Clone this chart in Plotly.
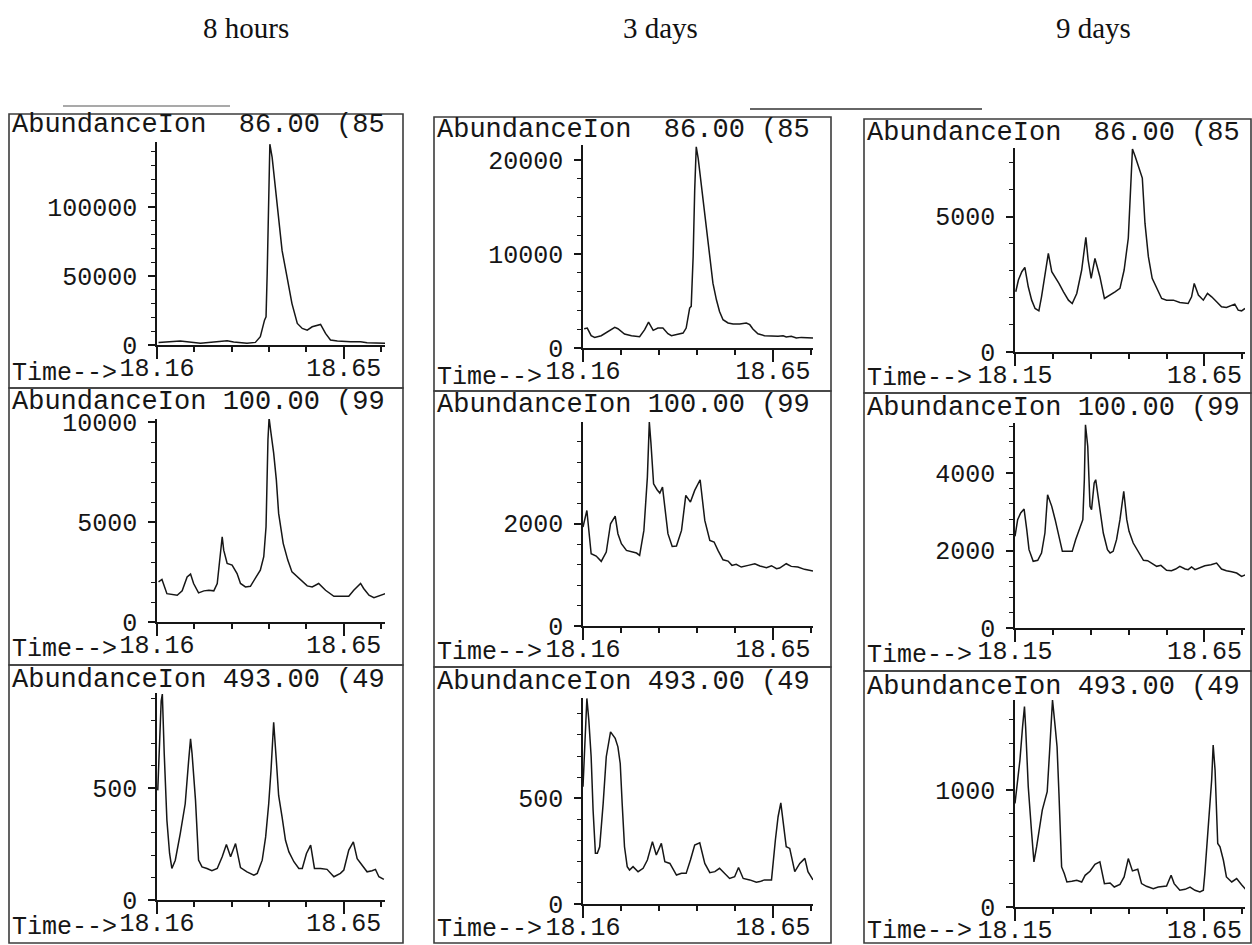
import plotly.graph_objects as go

W, H = 1252, 945

# ---------------- text ----------------
col_titles = ["8 hours", "3 days", "9 days"]
ion_labels = ["Ion  86.00 (85", "Ion 100.00 (99", "Ion 493.00 (49"]
x_start_labels = ["18.16", "18.16", "18.15"]
x_end_label = "18.65"

# ---------------- data (time in min, abundance) ----------------
# 8 hours, ion 86
t_8h_86 = [18.164, 18.221, 18.274, 18.326, 18.344, 18.361, 18.396, 18.418, 18.431, 18.442, 18.446,
           18.449, 18.453, 18.456, 18.462, 18.475, 18.488, 18.501, 18.514, 18.528, 18.541, 18.554,
           18.567, 18.589, 18.602, 18.615, 18.633, 18.668, 18.694, 18.711, 18.759]
v_8h_86 = [1900, 2900, 1200, 2400, 3100, 2200, 1200, 1900, 6000, 18000, 20400,
           51700, 123800, 145400, 135800, 99800, 68500, 49300, 30000, 15600, 12000, 10800,
           13200, 14900, 8400, 3600, 2900, 2400, 2400, 1700, 1200]

# 8 hours, ion 100
t_8h_100 = [18.164, 18.173, 18.186, 18.204, 18.213, 18.226, 18.239, 18.248, 18.256, 18.269, 18.283,
            18.296, 18.309, 18.318, 18.326, 18.331, 18.335, 18.344, 18.357, 18.370, 18.379, 18.392,
            18.405, 18.418, 18.431, 18.440, 18.446, 18.451, 18.454, 18.459, 18.466, 18.473, 18.479,
            18.491, 18.503, 18.514, 18.528, 18.541, 18.554, 18.567, 18.584, 18.602, 18.624, 18.641,
            18.663, 18.676, 18.694, 18.702, 18.716, 18.729, 18.746, 18.759]
v_8h_100 = [2010, 2130, 1420, 1370, 1340, 1560, 2260, 2400, 1930, 1460, 1560,
            1590, 1560, 1930, 3270, 4270, 3600, 2930, 2850, 2430, 1930, 1760,
            1790, 2180, 2600, 3270, 4770, 9130, 10220, 9460, 8460, 7120, 5440,
            3940, 3100, 2510, 2260, 2010, 1810, 1760, 1930, 1590, 1290, 1290,
            1290, 1590, 1930, 1680, 1340, 1220, 1340, 1420]

# 8 hours, ion 493
t_8h_493 = [18.162, 18.167, 18.171, 18.174, 18.176, 18.179, 18.186, 18.193, 18.199, 18.208, 18.221,
            18.234, 18.243, 18.248, 18.252, 18.261, 18.269, 18.278, 18.291, 18.304, 18.318, 18.331,
            18.342, 18.353, 18.366, 18.379, 18.396, 18.414, 18.423, 18.436, 18.445, 18.453, 18.459,
            18.466, 18.473, 18.479, 18.488, 18.497, 18.506, 18.519, 18.532, 18.541, 18.552, 18.563,
            18.573, 18.589, 18.606, 18.624, 18.641, 18.650, 18.663, 18.675, 18.685, 18.698, 18.711,
            18.724, 18.733, 18.742, 18.755]
v_8h_493 = [490, 683, 890, 920, 801, 653, 356, 208, 141, 178, 297,
            430, 623, 720, 653, 445, 178, 148, 141, 131, 141, 193,
            248, 193, 252, 145, 126, 111, 119, 178, 282, 430, 579,
            794, 623, 467, 371, 267, 215, 171, 141, 141, 208, 245,
            141, 141, 137, 104, 119, 134, 223, 260, 185, 156, 126,
            131, 137, 104, 92]

# 3 days, ion 86
t_3d_86 = [18.163, 18.171, 18.181, 18.190, 18.207, 18.224, 18.242, 18.250, 18.267, 18.285, 18.306,
           18.319, 18.329, 18.341, 18.353, 18.366, 18.379, 18.388, 18.405, 18.418, 18.426, 18.435,
           18.439, 18.444, 18.448, 18.452, 18.457, 18.463, 18.469, 18.478, 18.487, 18.495, 18.504,
           18.512, 18.521, 18.534, 18.547, 18.564, 18.581, 18.590, 18.598, 18.611, 18.628, 18.646,
           18.663, 18.676, 18.684, 18.697, 18.710, 18.723, 18.736, 18.753]
v_3d_86 = [2050, 2120, 1310, 1130, 1310, 1770, 2190, 2050, 1490, 1310, 1200,
           1950, 2760, 1880, 2120, 2120, 1520, 1310, 1490, 1590, 2120, 4250,
           4430, 9740, 16800, 21400, 20180, 18050, 16100, 12570, 9740, 6900, 5130,
           3890, 3010, 2660, 2550, 2550, 2660, 2480, 2020, 1520, 1310, 1240,
           1240, 1310, 1170, 1240, 1060, 1130, 1130, 1060]

# 3 days, ion 100
t_3d_100 = [18.160, 18.170, 18.181, 18.194, 18.207, 18.220, 18.231, 18.243, 18.250, 18.259, 18.272,
            18.285, 18.298, 18.306, 18.317, 18.326, 18.331, 18.335, 18.342, 18.351, 18.358, 18.365,
            18.372, 18.379, 18.390, 18.401, 18.414, 18.425, 18.437, 18.448, 18.462, 18.474, 18.487,
            18.498, 18.508, 18.521, 18.534, 18.544, 18.555, 18.568, 18.586, 18.603, 18.616, 18.633,
            18.646, 18.659, 18.667, 18.684, 18.697, 18.714, 18.731, 18.753]
v_3d_100 = [1935, 2260, 1414, 1368, 1264, 1446, 2000, 2150, 1805, 1609, 1479,
            1446, 1427, 1381, 1870, 2912, 3987, 3596, 2782, 2665, 2600, 2717,
            2196, 1805, 1557, 1564, 1870, 2554, 2424, 2652, 2860, 2065, 1674,
            1642, 1479, 1296, 1270, 1186, 1205, 1153, 1186, 1218, 1173, 1140,
            1179, 1121, 1134, 1218, 1166, 1153, 1108, 1075]

# 3 days, ion 493
t_3d_493 = [18.160, 18.163, 18.167, 18.170, 18.175, 18.181, 18.186, 18.192, 18.197, 18.203, 18.212,
            18.220, 18.231, 18.243, 18.250, 18.256, 18.261, 18.267, 18.274, 18.280, 18.289, 18.302,
            18.315, 18.326, 18.339, 18.349, 18.362, 18.371, 18.384, 18.401, 18.414, 18.426, 18.437,
            18.448, 18.461, 18.474, 18.487, 18.500, 18.512, 18.525, 18.538, 18.551, 18.561, 18.573,
            18.590, 18.607, 18.616, 18.628, 18.646, 18.656, 18.663, 18.670, 18.676, 18.684, 18.693,
            18.706, 18.719, 18.732, 18.740, 18.753]
v_3d_493 = [555, 681, 870, 973, 870, 697, 445, 240, 240, 271, 476,
            697, 815, 784, 744, 665, 476, 271, 177, 161, 177, 153,
            169, 208, 295, 232, 287, 200, 192, 137, 145, 145, 208,
            279, 290, 192, 148, 153, 169, 145, 121, 129, 173, 121,
            114, 103, 106, 114, 114, 303, 413, 479, 382, 271, 263,
            153, 192, 216, 153, 114]

# 9 days, ion 86
t_9d_86 = [18.152, 18.159, 18.168, 18.176, 18.185, 18.194, 18.203, 18.213, 18.220, 18.229, 18.238,
           18.247, 18.256, 18.266, 18.278, 18.291, 18.301, 18.313, 18.326, 18.337, 18.343, 18.351,
           18.361, 18.374, 18.386, 18.401, 18.414, 18.427, 18.438, 18.449, 18.453, 18.460, 18.467,
           18.475, 18.486, 18.493, 18.502, 18.512, 18.524, 18.537, 18.550, 18.568, 18.585, 18.607,
           18.616, 18.623, 18.634, 18.647, 18.658, 18.669, 18.682, 18.695, 18.708, 18.722, 18.730,
           18.739, 18.748, 18.757]
v_9d_86 = [2223, 2655, 2964, 3125, 2408, 1914, 1606, 1519, 2038, 2779, 3643,
           2964, 2779, 2532, 2223, 1914, 1791, 2161, 3026, 4236, 3396, 2717,
           3458, 2779, 1976, 2100, 2223, 2347, 3026, 4199, 5619, 7496, 7225,
           6854, 6422, 4755, 3520, 2717, 2347, 1976, 1914, 1914, 1828, 1791,
           2038, 2532, 2100, 1914, 2161, 2038, 1853, 1667, 1643, 1729, 1766,
           1544, 1519, 1606]

# 9 days, ion 100
t_9d_100 = [18.150, 18.157, 18.165, 18.174, 18.181, 18.187, 18.198, 18.210, 18.220, 18.229, 18.236,
            18.247, 18.256, 18.266, 18.275, 18.286, 18.301, 18.310, 18.322, 18.329, 18.333, 18.336,
            18.342, 18.348, 18.352, 18.359, 18.363, 18.372, 18.383, 18.394, 18.401, 18.409, 18.418,
            18.427, 18.437, 18.445, 18.451, 18.462, 18.475, 18.489, 18.500, 18.511, 18.524, 18.535,
            18.550, 18.563, 18.574, 18.585, 18.599, 18.607, 18.616, 18.625, 18.638, 18.651, 18.667,
            18.682, 18.695, 18.708, 18.722, 18.735, 18.748, 18.759]
v_9d_100 = [2365, 2795, 2967, 3070, 2537, 2021, 1720, 1746, 1935, 2451, 3440,
            3139, 2795, 2365, 1978, 1978, 1978, 2279, 2623, 2795, 3827, 5246,
            4687, 3139, 3053, 3741, 3827, 3225, 2451, 2021, 1935, 1978, 2279,
            2795, 3526, 2795, 2494, 2193, 1978, 1746, 1737, 1660, 1591, 1617,
            1488, 1479, 1522, 1591, 1522, 1505, 1574, 1505, 1548, 1608, 1634,
            1677, 1522, 1479, 1453, 1419, 1333, 1376]

# 9 days, ion 493
t_9d_493 = [18.150, 18.154, 18.163, 18.170, 18.175, 18.178, 18.185, 18.194, 18.200, 18.207, 18.216,
            18.222, 18.229, 18.235, 18.241, 18.247, 18.249, 18.256, 18.261, 18.266, 18.273, 18.280,
            18.287, 18.300, 18.313, 18.326, 18.335, 18.348, 18.361, 18.374, 18.386, 18.401, 18.412,
            18.427, 18.438, 18.449, 18.460, 18.474, 18.484, 18.497, 18.515, 18.528, 18.541, 18.550,
            18.562, 18.570, 18.585, 18.599, 18.612, 18.625, 18.638, 18.647, 18.651, 18.656, 18.663,
            18.669, 18.673, 18.678, 18.685, 18.691, 18.700, 18.708, 18.722, 18.735, 18.748, 18.759]
v_9d_493 = [886, 1000, 1257, 1543, 1714, 1543, 1029, 629, 386, 514, 686,
            829, 914, 986, 1314, 1686, 1771, 1543, 1371, 971, 343, 286,
            214, 220, 229, 214, 271, 306, 366, 386, 200, 206, 171,
            194, 257, 414, 309, 323, 200, 177, 157, 171, 177, 180,
            271, 200, 143, 151, 171, 143, 129, 143, 286, 514, 857,
            1086, 1386, 1171, 543, 514, 400, 257, 214, 243, 191, 149]

series_t = [t_8h_86, t_3d_86, t_9d_86,
            t_8h_100, t_3d_100, t_9d_100,
            t_8h_493, t_3d_493, t_9d_493]
series_v = [v_8h_86, v_3d_86, v_9d_86,
            v_8h_100, v_3d_100, v_9d_100,
            v_8h_493, v_3d_493, v_9d_493]

# y-axis tick values / labels per panel
y_major = [[0, 50000, 100000], [0, 10000, 20000], [0, 5000],
           [0, 5000, 10000], [0, 2000], [0, 2000, 4000],
           [0, 500], [0, 500], [0, 1000]]
y_minor_step = [10000, 2000, 1000,
                1000, 400, 400,
                100, 100, 200]
y_top = [147000, 21600, 7530,
         10170, 3990, 5290,
         925, 975, 1771]

# x-axis per column
x_t0 = [18.16, 18.16, 18.15]
x_step = [0.098, 0.098, 0.1]
x_end = [18.758, 18.753, 18.757]

# ---------------- layout geometry (pixels) ----------------
col_x = [(157, 385), (583, 813), (1015, 1245)]
panel_y = [(345, 142), (348, 145), (352, 148),
           (622, 419), (626, 422), (628, 423),
           (900, 693), (904, 698), (907, 700)]
box_x = [(9, 403), (434, 831), (864, 1251)]
box_rows = [[114, 388, 665, 943], [117, 391, 667, 943], [119, 393, 671, 943]]
head_y = [125, 130, 133, 402, 405, 408, 680, 682, 687]
time_y = [373, 377, 378, 649, 652, 655, 927, 929, 931]
title_x = [246, 661, 1093]

MONO = "Liberation Mono"
SERIF = "Liberation Serif"
INK = "#161616"


def px(x):
    return x / W


def py(y):
    return 1 - y / H


fig = go.Figure()
layout = dict(
    width=W, height=H,
    margin=dict(l=0, r=0, t=0, b=0, pad=0, autoexpand=False),
    paper_bgcolor="white", plot_bgcolor="white",
    showlegend=False,
)
annotations = []
shapes = []

for i in range(9):
    r, c = divmod(i, 3)
    xn = "x" if i == 0 else f"x{i+1}"
    yn = "y" if i == 0 else f"y{i+1}"
    xk = "xaxis" if i == 0 else f"xaxis{i+1}"
    yk = "yaxis" if i == 0 else f"yaxis{i+1}"

    fig.add_trace(go.Scatter(
        x=series_t[i], y=series_v[i], xaxis=xn, yaxis=yn,
        mode="lines", line=dict(color=INK, width=1.5),
        hoverinfo="x+y",
    ))

    t0, st = x_t0[c], x_step[c]
    minor_vals = [round(t0 + k * st, 4) for k in range(7)]
    layout[xk] = dict(
        domain=[px(col_x[c][0]), px(col_x[c][1])],
        anchor=yn,
        range=[t0, x_end[c]],
        automargin=False,
        showgrid=False, zeroline=False,
        showline=True, linecolor=INK, linewidth=1.5,
        tickmode="array",
        tickvals=[t0, round(t0 + 5 * st, 4)],
        ticktext=[x_start_labels[c], x_end_label],
        ticks="outside", ticklen=12, tickwidth=1.5, tickcolor=INK,
        ticklabelstandoff=-13,
        tickfont=dict(family=MONO, size=25, color=INK),
        minor=dict(tickmode="array", tickvals=minor_vals, ticks="outside",
                   ticklen=5, tickwidth=1.5, tickcolor=INK, showgrid=False),
        fixedrange=True,
    )
    yb, yt = panel_y[i]
    layout[yk] = dict(
        domain=[py(yb), py(yt)],
        anchor=xn,
        range=[0, y_top[i]],
        automargin=False,
        showgrid=False, zeroline=False,
        showline=True, linecolor=INK, linewidth=1.5,
        tickmode="array",
        tickvals=y_major[i],
        ticktext=[str(v) for v in y_major[i]],
        ticks="outside", ticklen=7, tickwidth=1.5, tickcolor=INK,
        ticklabelstandoff=6,
        tickfont=dict(family=MONO, size=25, color=INK),
        minor=dict(dtick=y_minor_step[i], tick0=0, ticks="outside",
                   ticklen=4, tickwidth=1.2, tickcolor=INK, showgrid=False),
        fixedrange=True,
    )

    # panel frame
    bx0, bx1 = box_x[c]
    by0, by1 = box_rows[c][r], box_rows[c][r + 1]
    shapes.append(dict(type="rect", xref="paper", yref="paper",
                       x0=px(bx0), x1=px(bx1), y0=py(by1), y1=py(by0),
                       line=dict(color="#3c3c3c", width=1.6), layer="below"))

    # header and time label
    annotations.append(dict(
        text="Abundance" + ion_labels[r], xref="paper", yref="paper",
        x=px(bx0 + 1), y=py(head_y[i]), xanchor="left", yanchor="middle",
        showarrow=False, font=dict(family=MONO, size=27, color=INK)))
    annotations.append(dict(
        text="Time--&gt;", xref="paper", yref="paper",
        x=px(bx0 + 1), y=py(time_y[i]), xanchor="left", yanchor="middle",
        showarrow=False, font=dict(family=MONO, size=25, color=INK)))

for c in range(3):
    annotations.append(dict(
        text=col_titles[c], xref="paper", yref="paper",
        x=px(title_x[c]), y=py(28), xanchor="center", yanchor="middle",
        showarrow=False, font=dict(family=SERIF, size=29, color="#111")))

# faint scan marks above the frames
shapes.append(dict(type="line", xref="paper", yref="paper",
                   x0=px(63), x1=px(230), y0=py(106), y1=py(106),
                   line=dict(color="#555", width=1.2)))
shapes.append(dict(type="line", xref="paper", yref="paper",
                   x0=px(750), x1=px(982), y0=py(109), y1=py(109),
                   line=dict(color="#333", width=1.5)))

layout["annotations"] = annotations
layout["shapes"] = shapes
fig.update_layout(**layout)
fig.write_html(
    "out.html",
    config={"displayModeBar": False},
    post_script="document.body.style.margin='0';document.body.style.overflow='hidden';",
)
